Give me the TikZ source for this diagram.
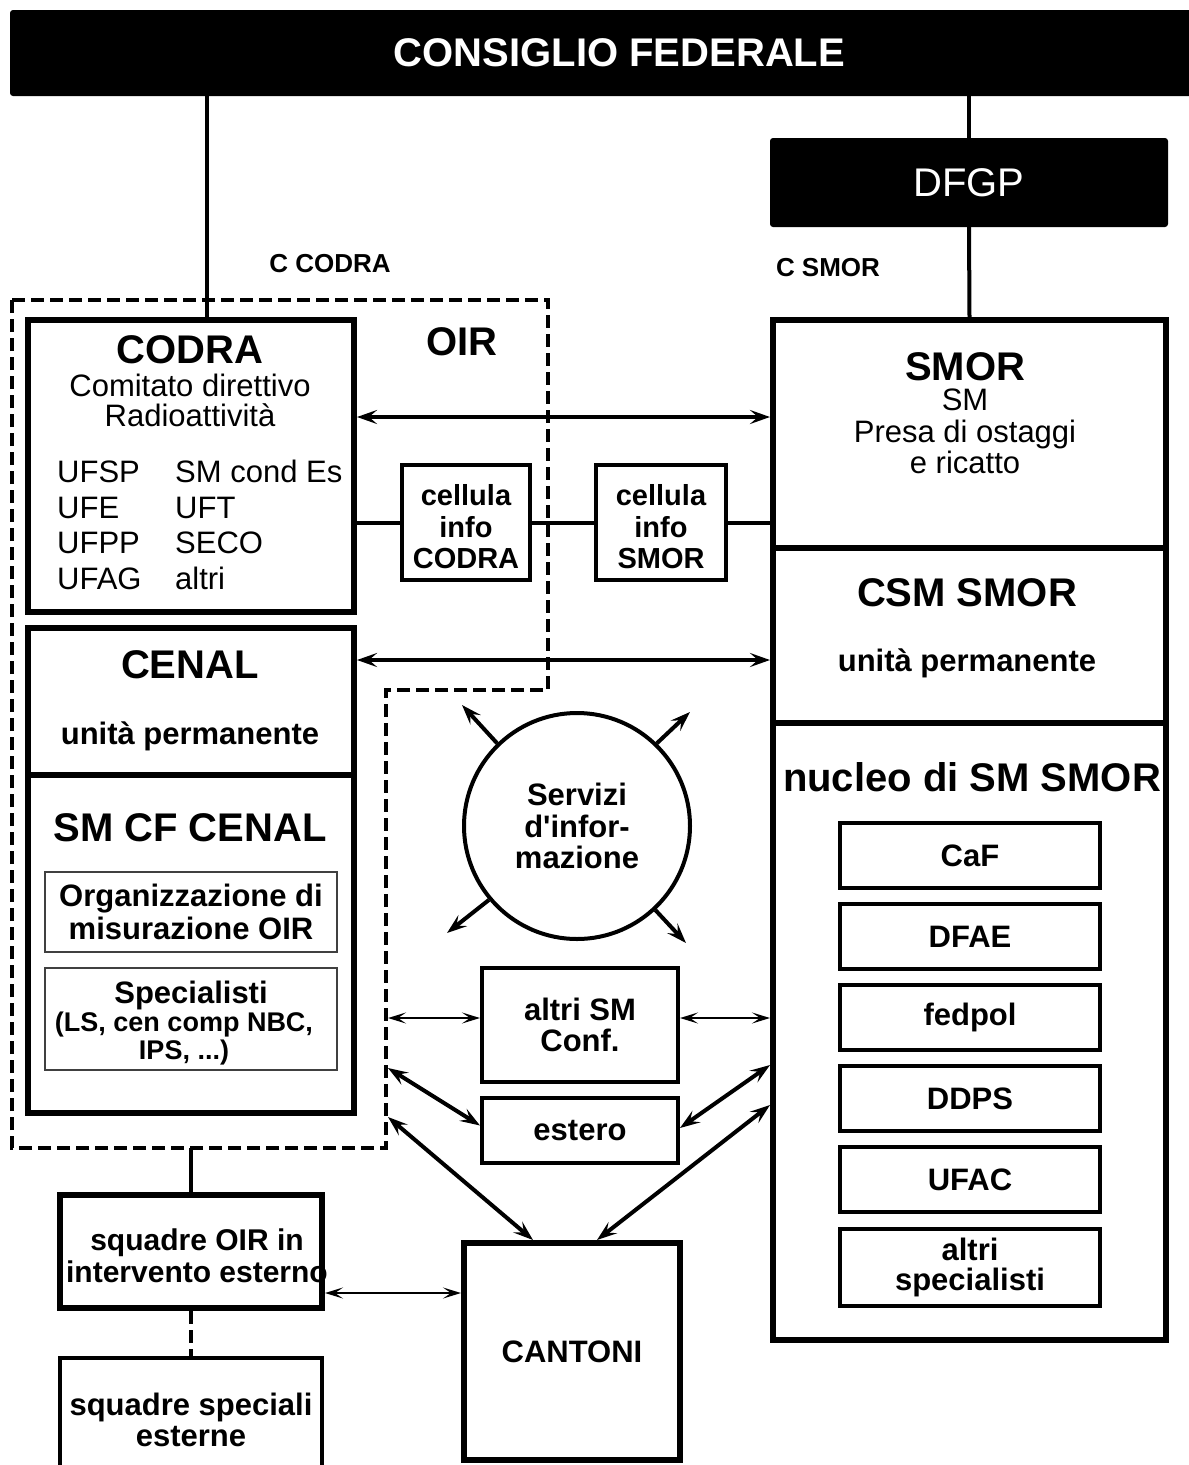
\documentclass[tikz,border=0pt]{standalone}
\usepackage{fontspec}
\setmainfont{Liberation Sans}[Ligatures=TeXOff]
\usetikzlibrary{arrows.meta}

\begin{document}
\begin{tikzpicture}[x=1pt,y=-1pt,
    hdrbox/.style={fill=black, text=white, rounded corners=3pt, inner sep=0pt},
    boxheavy/.style={draw, line width=6pt, inner sep=0pt},
    boxmid/.style={draw, line width=4pt, inner sep=0pt},
    boxlight/.style={draw=black!75, line width=1.5pt, inner sep=0pt},
    lblbig/.style={font=\fontsize{40}{42}\selectfont\bfseries},
    lblsmall/.style={font=\fontsize{26}{28}\selectfont\bfseries},
    txtbold/.style={font=\fontsize{31}{31.5}\selectfont\bfseries, align=center},
    txtplain/.style={font=\fontsize{31}{31}\selectfont, align=center},
    txtcell/.style={font=\fontsize{29}{31.5}\selectfont\bfseries, align=center},
    connector/.style={line width=4pt},
    oirline/.style={line width=4pt, dash pattern=on 13pt off 6pt},
    oneway/.style={line width=4pt, -{Stealth[length=20pt,width=14pt,inset=8pt]}},
    twoway/.style={line width=4pt, {Stealth[length=20pt,width=14pt,inset=8pt]}-{Stealth[length=20pt,width=14pt,inset=8pt]}},
    thinway/.style={line width=2pt, {Stealth[length=18pt,width=11pt,inset=8pt]}-{Stealth[length=18pt,width=11pt,inset=8pt]}}]
    \useasboundingbox (0,0) rectangle (1189,1465);
    \clip (0,0) rectangle (1189,1465);
    \fill[white] (0,0) rectangle (1189,1465);

    % top
    \node[hdrbox, minimum width=1219, minimum height=86, lblbig] (cf) at (619.5,53) {CONSIGLIO FEDERALE};
    \node[hdrbox, minimum width=398, minimum height=89, font=\fontsize{40}{42}\selectfont] (dfgp) at (969,182.5) {DFGP};
    \node[lblsmall] (ccodra) at (330,264) {C CODRA};
    \node[lblsmall] (csmor) at (828,268) {C SMOR};

    % OIR frame
    \draw[oirline] (12,300) -- (548,300) -- (548,690) -- (386,690) -- (386,1148) -- (12,1148) -- cycle;
    \node[lblbig] (oirlbl) at (462,342) {OIR};
    \coordinate (oirsm) at (388,1018);
    \coordinate (oirest) at (388,1068);
    \coordinate (oircan) at (388,1117);
    \coordinate (oirbot) at (191,1148);

    % left column
    \node[boxheavy, minimum width=326, minimum height=292] (codra) at (191,466) {};
    \node[lblbig] (codralbl) at (190,350) {CODRA};
    \node[txtplain, font=\fontsize{31}{30}\selectfont] (codrasub) at (190,400) {Comitato direttivo\\Radioattività};
    \node[anchor=west, inner sep=0pt, font=\fontsize{31}{35.7}\selectfont] (codralist) at (57,529)
        {\begin{tabular}{@{}p{118pt}@{}l@{}}UFSP & SM cond Es\\UFE & UFT\\UFPP & SECO\\UFAG & altri\end{tabular}};
    \node[boxheavy, minimum width=326, minimum height=147] (cenal) at (191,701.5) {};
    \node[lblbig] (cenallbl) at (190,665) {CENAL};
    \node[txtbold, anchor=base] (cenalunit) at (190,744) {unità permanente};
    \node[boxheavy, minimum width=326, minimum height=338] (smcf) at (191,944) {};
    \node[lblbig] (smcflbl) at (190,828) {SM CF CENAL};
    \node[boxlight, minimum width=292, minimum height=80, txtbold, font=\fontsize{31}{33}\selectfont\bfseries] (org) at (191,912) {Organizzazione di\\misurazione OIR};
    \node[boxlight, minimum width=292, minimum height=102] (spec) at (191,1019) {};
    \node[txtbold] (speclbl) at (191,995) {Specialisti};
    \node[txtbold, font=\fontsize{27}{28}\selectfont\bfseries] (specsub) at (184,1039) {(LS, cen comp NBC,\\IPS, ...)};
    \node[txtbold, font=\fontsize{30}{32}\selectfont\bfseries] (sqoirlbl) at (197,1256) {squadre OIR in\\intervento esterno};
    \node[boxheavy, minimum width=262, minimum height=113] (sqoir) at (191,1251.5) {};
    \node[boxmid, minimum width=262, minimum height=124, txtbold] (sqspec) at (191,1420) {squadre speciali\\esterne};

    % middle
    \node[boxmid, minimum width=128, minimum height=115] (cellcodra) at (466,522.5) {};
    \node[txtcell] (cellcodralbl) at (466,527) {cellula\\info\\CODRA};
    \node[boxmid, minimum width=130, minimum height=115] (cellsmor) at (661,522.5) {};
    \node[txtcell] (cellsmorlbl) at (661,527) {cellula\\info\\SMOR};
    \node[circle, draw, line width=4pt, minimum size=226, inner sep=0pt, txtbold] (serv) at (577,826) {Servizi\\d'infor-\\mazione};
    \node[boxmid, minimum width=196, minimum height=114, txtbold] (altrism) at (580,1025) {altri SM\\Conf.};
    \node[boxmid, minimum width=196, minimum height=65, txtbold] (estero) at (580,1130.5) {estero};
    \node[boxheavy, minimum width=216, minimum height=217, txtbold] (cantoni) at (572,1351.5) {CANTONI};
    \coordinate (servnw) at (462,705);
    \coordinate (servne) at (690,712);
    \coordinate (servsw) at (447,933);
    \coordinate (servse) at (686,943);

    % right column
    \node[boxheavy, minimum width=393, minimum height=228] (smor) at (969.5,434) {};
    \node[lblbig] (smorlbl) at (965,367) {SMOR};
    \node[txtplain, font=\fontsize{31}{31.5}\selectfont] (smorsub) at (965,431.5) {SM\\Presa di ostaggi\\e ricatto};
    \node[boxheavy, minimum width=393, minimum height=175] (csm) at (969.5,635.5) {};
    \node[lblbig] (csmlbl) at (967,593) {CSM SMOR};
    \node[txtbold, anchor=base] (csmunit) at (967,671) {unità permanente};
    \node[boxheavy, minimum width=393, minimum height=617] (nucleo) at (969.5,1031.5) {};
    \node[lblbig] (nucleolbl) at (972,777) {nucleo di SM SMOR};
    \node[boxmid, minimum width=260, minimum height=65, txtbold] (caf) at (970,855.5) {CaF};
    \node[boxmid, minimum width=260, minimum height=65, txtbold] (dfae) at (970,936.5) {DFAE};
    \node[boxmid, minimum width=260, minimum height=65, txtbold] (fedpol) at (970,1017.5) {fedpol};
    \node[boxmid, minimum width=260, minimum height=65, txtbold] (ddps) at (970,1098.5) {DDPS};
    \node[boxmid, minimum width=260, minimum height=65, txtbold] (ufac) at (970,1179.5) {UFAC};
    \node[boxmid, minimum width=260, minimum height=77, txtbold, font=\fontsize{31}{30}\selectfont\bfseries] (altrispec) at (970,1267.5) {altri\\specialisti};

    % lines
    \coordinate (codratop) at ([xshift=16]codra.north);
    \draw[connector] (codratop) -- (codratop |- cf.south);
    \draw[connector] (dfgp.north) -- (dfgp.north |- cf.south);
    \draw[connector] (dfgp.south) -- (smor.north);
    \draw[connector] ([yshift=-56.5]codra.east) -- (cellcodra.west);
    \draw[connector] (cellcodra.east) -- (cellsmor.west);
    \draw[connector] (cellsmor.east) -- ([yshift=-88.5]smor.west);
    \draw[connector] (sqoir.north) -- (sqoir.north |- oirbot);
    \draw[oirline] (sqoir.south) -- (sqspec.north);

    % arrows
    \draw[twoway] ([yshift=49]codra.east) -- ([yshift=17]smor.west);
    \draw[twoway] ([yshift=41.5]cenal.east) -- ([yshift=-24.5]csm.west);
    \draw[oneway] (serv.134) -- (servnw);
    \draw[oneway] (serv.46) -- (servne);
    \draw[oneway] (serv.220) -- (servsw);
    \draw[oneway] (serv.313) -- (servse);
    \draw[thinway] (oirsm) -- ([yshift=7]altrism.west);
    \draw[thinway] ([yshift=7]altrism.east) -- ([yshift=13.5]nucleo.west);
    \draw[twoway] (oirest) -- ([yshift=5]estero.west);
    \draw[twoway] ([yshift=2.5]estero.east) -- ([yshift=-33.5]nucleo.west);
    \draw[twoway] (oircan) -- ([xshift=-39]cantoni.north);
    \draw[twoway] ([yshift=-73.5]nucleo.west) -- ([xshift=25]cantoni.north);
    \draw[thinway] ([yshift=-41.5]sqoir.east) -- ([yshift=58.5]cantoni.west);
\end{tikzpicture}
\end{document}
